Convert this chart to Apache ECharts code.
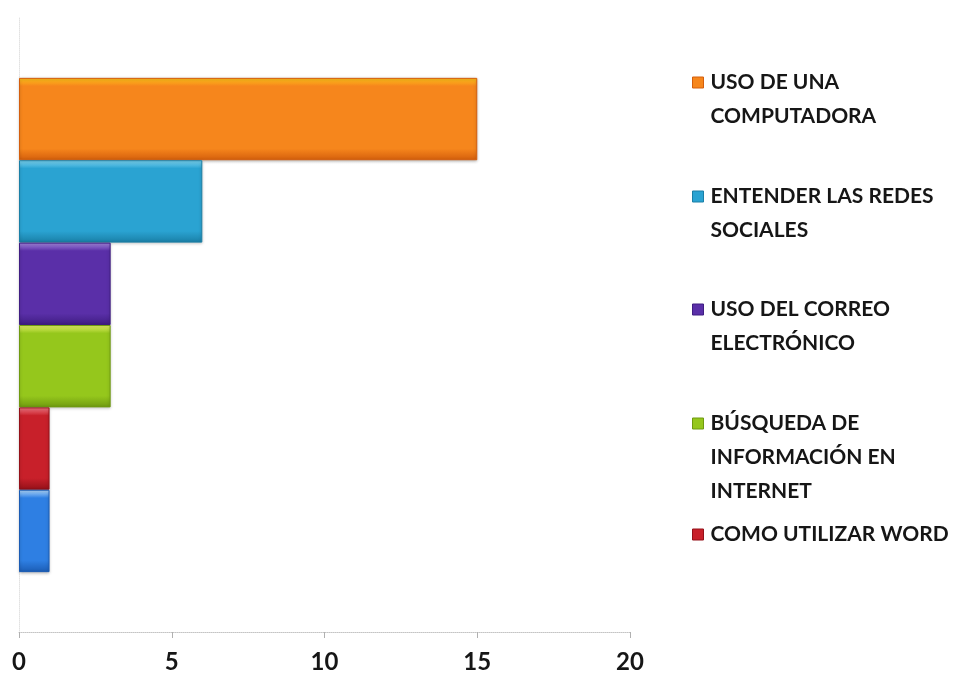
<!DOCTYPE html>
<html>
<head>
<meta charset="utf-8">
<script src="https://cdn.jsdelivr.net/npm/echarts@6/dist/echarts.min.js"></script>
<style>
  html, body { margin: 0; padding: 0; background: #ffffff; }
  #chart { width: 962px; height: 677px; }
</style>
</head>
<body>
<div id="chart"></div>
<script>
// Temas de capacitación y número de respuestas
const seriesNames = [
  'USO DE UNA\nCOMPUTADORA',
  'ENTENDER LAS REDES\nSOCIALES',
  'USO DEL CORREO\nELECTRÓNICO',
  'BÚSQUEDA DE\nINFORMACIÓN EN\nINTERNET',
  'COMO UTILIZAR WORD',
  ''
];
const seriesValues = [15, 6, 3, 3, 1, 1];
const categories = [''];
const xTicks = [0, 5, 10, 15, 20];

// base, highlight and shade tones for each bar
const palette = [
  ['#f6861c', '#ffc21a', '#d45e0c'],
  ['#2aa3d2', '#7fd6f2', '#1a7fa6'],
  ['#5a2fa8', '#a78ae0', '#3f1d82'],
  ['#95c71c', '#e8f26a', '#6f9a10'],
  ['#c8202a', '#f27a86', '#941018'],
  ['#2e7fe3', '#b5dcff', '#1b5cb4']
];

function barFill(p) {
  return new echarts.graphic.LinearGradient(0, 0, 0, 1, [
    { offset: 0, color: p[1] },
    { offset: 0.1, color: p[0] },
    { offset: 0.86, color: p[0] },
    { offset: 1, color: p[2] }
  ]);
}

const series = seriesNames.map((name, i) => ({
  name: name || 'serie6',
  type: 'bar',
  data: [seriesValues[i]],
  barGap: '0%',
  barCategoryGap: '19.5%',
  itemStyle: {
    color: barFill(palette[i]),
    borderColor: palette[i][2],
    borderWidth: 1,
    shadowColor: 'rgba(0,0,0,0.25)',
    shadowBlur: 3,
    shadowOffsetY: 1
  }
}));

// legend entries: each square sits beside the first line of its label
const lineH = 34;
const legendTops = [60, 174, 287, 401, 512];
function legendIcon(lines) {
  const h = lines * lineH;
  return 'path://M0,11.5L11,11.5L11,22.5L0,22.5Z M0,0 M0,' + h;
}
const legends = legendTops.map((t, i) => {
  const lines = seriesNames[i].split('\n').length;
  return {
    data: [{ name: seriesNames[i], icon: legendIcon(lines), itemStyle: { color: palette[i][0], borderColor: palette[i][2], borderWidth: 1 } }],
    left: 687,
    top: t,
    orient: 'vertical',
    itemWidth: 11,
    itemHeight: lines * lineH,
    itemGap: 0,
    textStyle: { fontFamily: 'Lato', fontSize: 21, fontWeight: 'bold', color: '#161616', lineHeight: lineH, padding: [0, 0, 0, 2] },
    selectedMode: false
  };
});

const chart = echarts.init(document.getElementById('chart'), null, { renderer: 'canvas' });
chart.setOption({
  backgroundColor: '#ffffff',
  animation: false,
  grid: { left: 19, right: 332, top: 18, bottom: 45, containLabel: false },
  legend: legends,
  xAxis: {
    type: 'value',
    min: xTicks[0],
    max: xTicks[xTicks.length - 1],
    interval: 5,
    axisLine: { show: true, lineStyle: { color: '#c4c4c4', type: 'dotted', width: 1 } },
    axisTick: { show: true, length: 6, lineStyle: { color: '#b0b0b0' } },
    splitLine: { show: false },
    axisLabel: { fontFamily: 'Lato', fontSize: 24, fontWeight: 'bold', color: '#161616', margin: 18 }
  },
  yAxis: {
    type: 'category',
    data: categories,
    inverse: true,
    axisLine: { show: true, lineStyle: { color: '#e2e2e2', type: 'dotted', width: 1 } },
    axisTick: { show: false },
    axisLabel: { show: false }
  },
  series: series
});
</script>
</body>
</html>
